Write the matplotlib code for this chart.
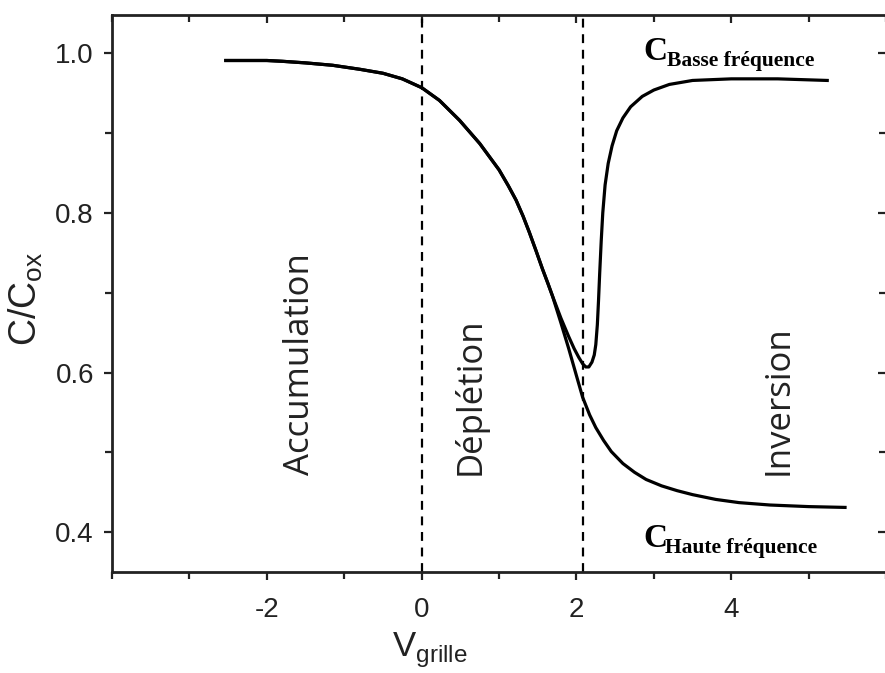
import matplotlib
matplotlib.use('Agg')
import matplotlib.pyplot as plt
from matplotlib.ticker import MultipleLocator, FixedLocator

plt.rcParams['axes.unicode_minus'] = False

# C-V curve of a MOS capacitor (normalised capacitance vs gate voltage)
v_common = [-2.53, -2.0, -1.8, -1.5, -1.15, -0.8, -0.5, -0.25, 0.0, 0.23, 0.49, 0.75, 1.0,
            1.12, 1.22, 1.31, 1.39, 1.48, 1.56, 1.63, 1.69]
c_common = [0.991, 0.991, 0.990, 0.988, 0.985, 0.980, 0.975, 0.968, 0.957, 0.941, 0.916, 0.887,
            0.854, 0.834, 0.816, 0.796, 0.776, 0.752, 0.730, 0.712, 0.696]

# high frequency branch
v_hf = [1.8, 1.9, 2.0, 2.08, 2.17, 2.25, 2.35, 2.45, 2.6, 2.75, 2.9, 3.1, 3.3, 3.5, 3.8,
        4.1, 4.5, 5.0, 5.47]
c_hf = [0.662, 0.630, 0.596, 0.569, 0.547, 0.531, 0.515, 0.501, 0.486, 0.475, 0.466, 0.458,
        0.452, 0.447, 0.441, 0.437, 0.434, 0.432, 0.431]

# low frequency branch
v_lf = [1.8, 1.9, 1.97, 2.03, 2.08, 2.12, 2.16, 2.2, 2.23, 2.25, 2.27, 2.285, 2.30, 2.32,
        2.34, 2.37, 2.41, 2.46, 2.52, 2.6, 2.7, 2.85, 3.0, 3.2, 3.5, 4.0, 4.6, 5.24]
c_lf = [0.668, 0.645, 0.630, 0.619, 0.611, 0.607, 0.607, 0.613, 0.622, 0.635, 0.660, 0.690,
        0.724, 0.765, 0.800, 0.835, 0.862, 0.884, 0.903, 0.919, 0.933, 0.946, 0.954, 0.961,
        0.966, 0.968, 0.968, 0.966]

v_limits = [0.0, 2.08]
regions = ['Accumulation', 'Déplétion', 'Inversion']
region_x = [-1.57, 0.63, 4.61]
x_ticks = [-2, 0, 2, 4]
y_ticks = [0.4, 0.6, 0.8, 1.0]

fig = plt.figure(figsize=(8.85, 6.73), dpi=100)
ax = fig.add_axes([0.1266, 0.150, 0.8746, 0.8277])

ax.plot(v_common + v_hf, c_common + c_hf, color='black', lw=2.3, solid_joinstyle='round')
ax.plot(v_common + v_lf, c_common + c_lf, color='black', lw=2.3, solid_joinstyle='round')

for v in v_limits:
    ax.axvline(v, color='black', lw=1.6, linestyle=(0, (4, 3)))

for name, x in zip(regions, region_x):
    ax.text(x, 0.472, name, rotation=90, ha='center', va='bottom',
            fontsize=25, family='Open Sans', color='#222222')

# curve labels (serif bold, subscripted)
ax.text(2.86, 0.991, 'C', fontsize=24, family='Liberation Serif', weight='bold',
        ha='left', va='baseline')
ax.text(3.17, 0.984, 'Basse fréquence', fontsize=15.5, family='Liberation Serif',
        weight='bold', ha='left', va='baseline')
ax.text(2.86, 0.381, 'C', fontsize=24, family='Liberation Serif', weight='bold',
        ha='left', va='baseline')
ax.text(3.15, 0.374, 'Haute fréquence', fontsize=15.5, family='Liberation Serif',
        weight='bold', ha='left', va='baseline')

ax.set_xlim(-4, 6)
ax.set_ylim(0.35, 1.048)
ax.xaxis.set_major_locator(FixedLocator(x_ticks))
ax.xaxis.set_minor_locator(MultipleLocator(1))
ax.yaxis.set_major_locator(FixedLocator(y_ticks))
ax.yaxis.set_minor_locator(MultipleLocator(0.1))
ax.set_yticklabels(['%.1f' % y for y in y_ticks])
ax.set_xticklabels([str(x) for x in x_ticks])

ax.tick_params(which='both', direction='out', labelsize=20, width=1.6, color='#222222',
               labelcolor='#222222')
ax.tick_params(which='major', length=6)
ax.tick_params(which='minor', length=5)
ax.tick_params(axis='y', which='both', right=True, labelright=False, pad=7)
ax.tick_params(axis='x', which='both', top=True, labeltop=False, pad=12)
for lab in ax.get_xticklabels() + ax.get_yticklabels():
    lab.set_family('Liberation Sans')

# mirrored ticks go inward
for t in ax.yaxis.get_major_ticks() + ax.yaxis.get_minor_ticks():
    t.tick2line.set_marker(matplotlib.lines.TICKLEFT)
for t in ax.xaxis.get_major_ticks() + ax.xaxis.get_minor_ticks():
    t.tick2line.set_marker(matplotlib.lines.TICKDOWN)

for s in ax.spines.values():
    s.set_linewidth(2.0)
    s.set_color('#222222')

ax.set_ylabel(r'C/C$_{\mathregular{ox}}$', fontsize=27, family='Liberation Sans', color='#222222')
ax.yaxis.set_label_coords(-0.087, 0.49)
ax.set_xlabel(r'V$_{\mathregular{grille}}$', fontsize=25, family='Liberation Sans', color='#222222')
ax.xaxis.set_label_coords(0.41, -0.105)

fig.savefig('out.png', dpi=100)
